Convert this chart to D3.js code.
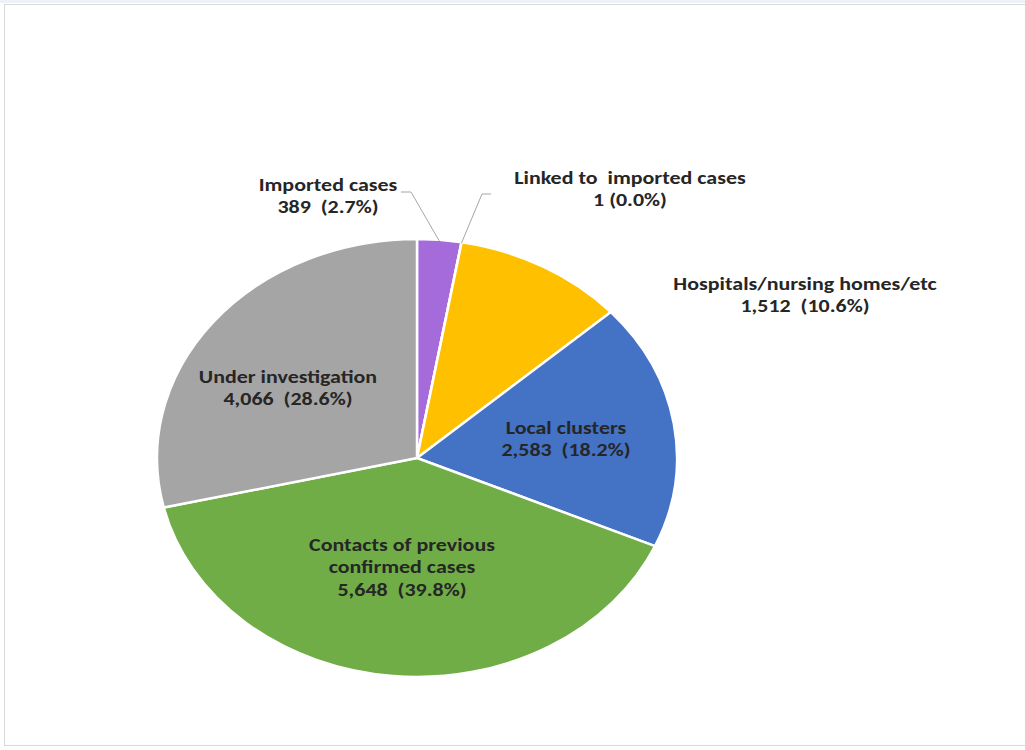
<!DOCTYPE html>
<html>
<head>
<meta charset="utf-8">
<script src="https://cdn.jsdelivr.net/npm/d3@7"></script>
<style>
  body { margin: 0; background: #fff; }
  svg text { font-family: Carlito, Lato, "Open Sans", sans-serif; font-weight: bold; fill: #262626; }
</style>
</head>
<body>
<svg id="chart" width="1025" height="750"></svg>
<script>
// Data
const categories = ["Imported cases", "Linked to  imported cases", "Hospitals/nursing homes/etc",
                    "Local clusters", "Contacts of previous confirmed cases", "Under investigation"];
const counts = [389, 1, 1512, 2583, 5648, 4066];
const percents = ["2.7%", "0.0%", "10.6%", "18.2%", "39.8%", "28.6%"];
const colors = ["#A66BDB", "#ED7D31", "#FFC000", "#4472C4", "#70AD47", "#A5A5A5"];

const svg = d3.select("#chart");
const cx = 417, cy = 458, ry = 219, rx = 260;
const stretch = rx / ry; // the picture is stretched sideways
const fmt = d3.format(",");

// chart frame
svg.append("rect").attr("x", 0).attr("y", 0).attr("width", 1025).attr("height", 3).attr("fill", "#eef2f8");
svg.append("rect").attr("x", 4.5).attr("y", 4.5).attr("width", 1030).attr("height", 741)
    .attr("fill", "none").attr("stroke", "#d9d9d9");

const data = categories.map((c, i) => ({ name: c, value: counts[i], pct: percents[i], color: colors[i] }));
const pie = d3.pie().sort(null).value(d => d.value);
const arcs = pie(data);
const arc = d3.arc().innerRadius(0).outerRadius(ry);

const g = svg.append("g").attr("transform", `translate(${cx},${cy}) scale(${stretch},1)`);
g.selectAll("path").data(arcs).enter().append("path")
    .attr("d", arc)
    .attr("fill", d => d.data.color)
    .attr("stroke", "#fff")
    .attr("stroke-width", 2.5)
    .attr("vector-effect", "non-scaling-stroke");

// point on the ellipse edge at the slice's mid angle
const edge = (d, k) => {
    const a = (d.startAngle + d.endAngle) / 2;
    return [cx + rx * k * Math.sin(a), cy - ry * k * Math.cos(a)];
};

// label lines and positions
const labels = [
    { i: 0, x: 328, y: 191, lines: ["Imported cases"], leader: [[401, 192], [411, 192]] },
    { i: 1, x: 630, y: 184, lines: ["Linked to  imported cases"], leader: [[491, 194], [482, 194]] },
    { i: 2, x: 805, y: 290, lines: ["Hospitals/nursing homes/etc"] },
    { i: 3, x: 566, y: 434, lines: ["Local clusters"] },
    { i: 4, x: 402, y: 551, lines: ["Contacts of previous", "confirmed cases"] },
    { i: 5, x: 288, y: 383, lines: ["Under investigation"] }
];

labels.forEach(l => {
    const d = arcs[l.i];
    if (l.leader) {
        const pts = l.leader.concat([edge(d, 0.995)]);
        svg.append("path")
            .attr("d", d3.line()(pts))
            .attr("fill", "none")
            .attr("stroke", "#a6a6a6")
            .attr("stroke-width", 1);
    }
    const t = svg.append("text").attr("text-anchor", "middle").attr("font-size", 18.5)
        .attr("transform", `translate(${l.x},${l.y}) scale(${stretch},1)`);
    const all = l.lines.concat([d.data.value === 1 ? `${fmt(d.data.value)} (${d.data.pct})`
                                                    : `${fmt(d.data.value)}  (${d.data.pct})`]);
    all.forEach((s, j) => {
        t.append("tspan").attr("x", 0).attr("y", j * 22.5)
            .attr("xml:space", "preserve").style("white-space", "pre").text(s);
    });
});
</script>
</body>
</html>
